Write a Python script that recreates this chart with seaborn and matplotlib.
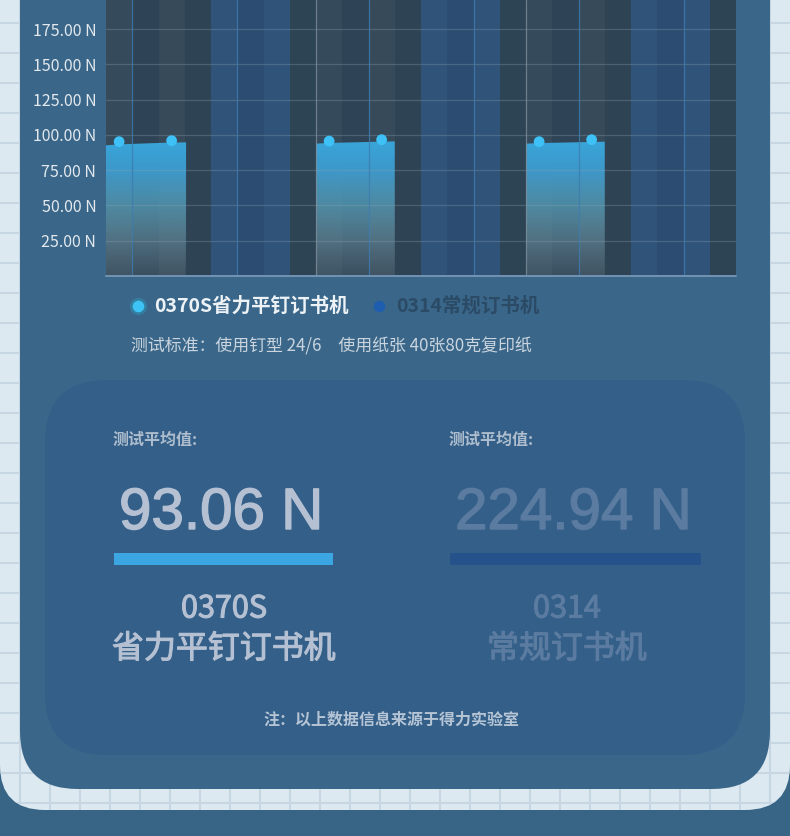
import numpy as np
import matplotlib
matplotlib.use("Agg")
import matplotlib.pyplot as plt
import matplotlib.patheffects as pe
from matplotlib.patches import FancyBboxPatch, Rectangle
import seaborn as sns

sns.set_theme(style="dark")
plt.rcParams['font.family'] = ['Noto Sans CJK SC', 'DejaVu Sans']

# data
series_names = ['0370S省力平钉订书机', '0314常规订书机']
avg_values = [93.06, 224.94]
model_codes = ['0370S', '0314']
model_names = ['省力平钉订书机', '常规订书机']
y_ticks = [25, 50, 75, 100, 125, 150, 175]
point_x = [0.5, 2.5, 8.5, 10.5, 16.5, 18.5]
point_y = [95.2, 95.9, 95.6, 96.6, 95.2, 96.6]
area_x = [[0, 0.5, 2.5, 3.05], [8, 8.5, 10.5, 11], [16, 16.5, 18.5, 19]]
area_top = [[92.6, 93.3, 94.6, 94.7], [93.8, 94.3, 95.2, 95.4], [93.8, 94.2, 95.0, 95.2]]
subtitle = '测试标准：使用钉型 24/6\u3000使用纸张 40张80克复印纸'
footnote = '注：以上数据信息来源于得力实验室'

W, H = 790, 836
fig = plt.figure(figsize=(W / 100, H / 100), dpi=100)
fig.patch.set_facecolor('#386586')

# background layer in pixel coords
bg = fig.add_axes([0, 0, 1, 1])
bg.set_xlim(0, W)
bg.set_ylim(H, 0)
bg.axis('off')

panel = FancyBboxPatch((0, -100), W, 910, boxstyle='round,pad=0,rounding_size=45',
                       fc='#dce9f1', ec='none', zorder=0)
bg.add_patch(panel)
for yy in range(23, H, 30):
    ln, = bg.plot([0, W], [yy, yy], color='#c6d7e3', lw=1.5, zorder=0.5)
    ln.set_clip_path(panel)
for xx in range(20, W, 30):
    ln, = bg.plot([xx, xx], [0, H], color='#c6d7e3', lw=1.5, zorder=0.5)
    ln.set_clip_path(panel)

card = FancyBboxPatch((20, -100), 750, 889, boxstyle='round,pad=0,rounding_size=58',
                      fc='#3a6789', ec='none', zorder=1)
bg.add_patch(card)
inner = FancyBboxPatch((45, 380), 700, 375, boxstyle='round,pad=0,rounding_size=62',
                       fc='#335f89', ec='none', zorder=1.5)
bg.add_patch(inner)

# chart
ax = fig.add_axes([106 / W, (H - 276) / H, 630 / W, 276 / H])
ax.set_facecolor('#2e4455')
band_colors = ['#354a5b', '#2e4456', '#364a5a', '#2e4455', '#30537a', '#2c4d71', '#30537a', '#2d4455']
for g in range(3):
    for i, c in enumerate(band_colors):
        ax.axvspan(8 * g + i, 8 * g + i + 1, color=c, lw=0, zorder=0)

# gradient for area
stops_t = [0.0, 0.26, 0.53, 0.8, 1.0]
stops_c = np.array([[123, 144, 155, 0.15 * 255],
                    [114, 160, 177, 0.45 * 255],
                    [86, 160, 188, 0.75 * 255],
                    [61, 158, 210, 0.95 * 255],
                    [58, 166, 218, 255]]) / 255
tt = np.linspace(0, 1, 256)
grad = np.stack([np.interp(tt, stops_t, stops_c[:, k]) for k in range(4)], axis=-1)[:, None, :]

for xs, tops in zip(area_x, area_top):
    poly = ax.fill_between(xs, 0, tops, facecolor='none', edgecolor='none')
    im = ax.imshow(grad, extent=[xs[0], xs[-1], 0, max(tops)], origin='lower',
                   aspect='auto', zorder=2, interpolation='bilinear')
    im.set_clip_path(poly.get_paths()[0], transform=ax.transData)

sns.scatterplot(x=point_x, y=point_y, color='#3ec1f6', s=60, edgecolor='none',
                ax=ax, zorder=5, legend=False)

for v in y_ticks:
    ax.axhline(v, color='#8fa5b5', alpha=0.3, lw=0.9, zorder=3)
for xv in [1, 5, 10, 14, 18, 22]:
    ax.axvline(xv, color='#3d7cb0', alpha=0.8, lw=0.9, zorder=3)
for xv in [8, 16]:
    ax.axvline(xv, color='#7d8d99', alpha=0.8, lw=0.9, zorder=3)
ax.axhline(0, color='#7393b2', lw=1.4, zorder=4, clip_on=False)

ax.set_xlim(0, 24)
ax.set_ylim(0, 195.6)
ax.set_xticks([])
ax.set_yticks(y_ticks)
ax.set_yticklabels([f'{v:.2f} N' for v in y_ticks])
ax.tick_params(axis='y', length=0, pad=7, labelsize=11.5, labelcolor='#e3e9ee')
ax.grid(False)
for s in ax.spines.values():
    s.set_visible(False)

# legend
bg.scatter([138], [306], s=150, color='#2f93b6', alpha=0.55, lw=0, zorder=5)
bg.scatter([138], [306], s=70, color='#3ec3f7', lw=0, zorder=6)
bg.text(154, 306, series_names[0], va='center', ha='left', fontsize=14,
        weight='bold', color='#edf2f6', zorder=6)
bg.scatter([379], [306], s=70, color='#1f5eae', lw=0, zorder=6)
bg.text(396, 306, series_names[1], va='center', ha='left', fontsize=14,
        weight='bold', color='#2b4a66', zorder=6)
bg.text(131, 346, subtitle, va='center', ha='left', fontsize=12.2,
        color='#c9d4de', zorder=6)

# summary box
left_c, right_c = '#b5c1d3', '#5b7ca0'
for x0, val, col, bar_w, bar_c, code, name, cx in [
        (113, avg_values[0], left_c, 219, '#3ba6e2', model_codes[0], model_names[0], 224),
        (449, avg_values[1], right_c, 251, '#25528a', model_codes[1], model_names[1], 567)]:
    bg.text(x0, 440, '测试平均值:', va='center', ha='left', fontsize=11.5,
            weight='bold', color='#aebdcd', zorder=6)
    bg.text(x0 + 6, 514, f'{val:.2f} N', va='center', ha='left', fontsize=42,
            family=['Liberation Sans'], color=col, zorder=6,
            path_effects=[pe.withStroke(linewidth=1.0, foreground=col)])
    bg.add_patch(Rectangle((x0 + 1, 553), bar_w, 12, fc=bar_c, ec='none', zorder=6))
    bg.text(cx, 609, code, va='center', ha='center', fontsize=22, weight='medium',
            color=col, zorder=6, path_effects=[pe.withStroke(linewidth=0.8, foreground=col)])
    bg.text(cx, 649, name, va='center', ha='center', fontsize=23, weight='medium',
            color=col, zorder=6, path_effects=[pe.withStroke(linewidth=0.8, foreground=col)])

bg.text(391, 720, footnote, va='center', ha='center', fontsize=11.5, weight='bold',
        color='#b6c5d5', zorder=6)

fig.savefig('out.png', dpi=100, facecolor=fig.get_facecolor())
